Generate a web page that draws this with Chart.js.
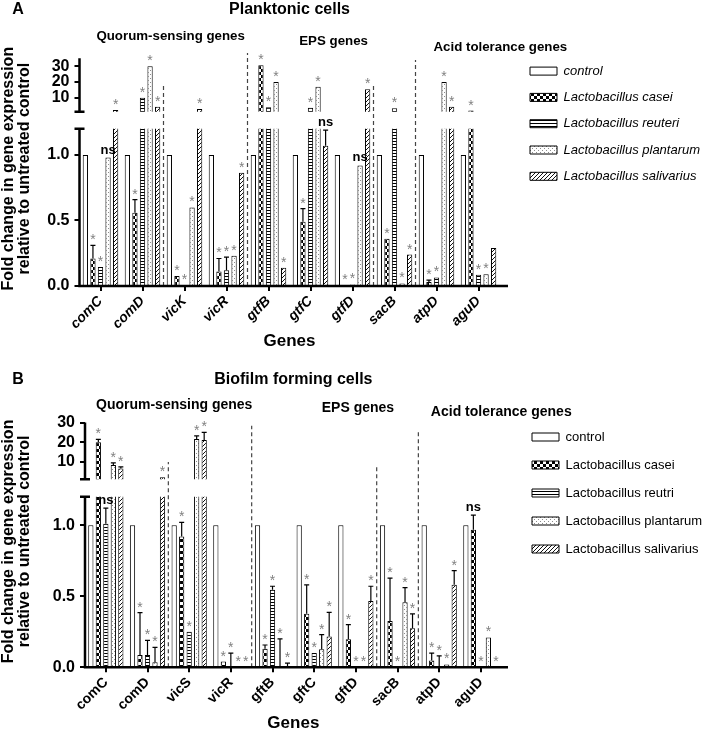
<!DOCTYPE html>
<html>
<head>
<meta charset="utf-8">
<script src="https://cdn.jsdelivr.net/npm/chart.js@4.4.1/dist/chart.umd.min.js"></script>
<style>
  html, body { margin: 0; background: #fff; overflow: hidden; }
  canvas { display: block; }
</style>
</head>
<body>
<canvas id="chartA" width="709" height="365"></canvas>
<canvas id="chartB" width="709" height="369"></canvas>
<script>
// ---- data ----
const genesA = ['comC', 'comD', 'vicK', 'vicR', 'gtfB', 'gtfC', 'gtfD', 'sacB', 'atpD', 'aguD'];
const genesB = ['comC', 'comD', 'vicS', 'vicR', 'gftB', 'gftC', 'gftD', 'sacB', 'atpD', 'aguD'];
const seriesA = ['control', 'Lactobacillus casei', 'Lactobacillus reuteri', 'Lactobacillus plantarum', 'Lactobacillus salivarius'];
const seriesB = ['control', 'Lactobacillus casei', 'Lactobacillus reutri', 'Lactobacillus plantarum', 'Lactobacillus salivarius'];
const yTicksA = [0, 0.5, 1.0, 10, 20, 30];
const yTicksB = [0, 0.5, 1.0, 10, 20, 30];

// panel A : planktonic cells
const controlA    = [1, 1, 1, 1, 1, 1, 1, 1, 1, 1];
const caseiA      = [0.21, 0.56, 0.076, 0.11, 30.5, 0.49, 0.008, 0.36, 0.03, 1.9];
const reuteriA    = [0.145, 10, 0.005, 0.12, 4.0, 3.7, 0.012, 3.3, 0.065, 0.085];
const plantarumA  = [0.98, 30, 0.6, 0.23, 20, 17, 0.92, 0.02, 20, 0.09];
const salivariusA = [2.3, 4.4, 2.9, 0.865, 0.14, 1.07, 15.4, 0.24, 4.4, 0.29];
const caseiErrA      = [0.31, 0.66, null, 0.21, null, 0.59, null, null, 0.045, null];
const reuteriErrA    = [null, null, null, 0.22, null, null, null, null, null, null];
const plantarumErrA  = [null, null, null, null, null, null, null, null, null, null];
const salivariusErrA = [null, null, null, null, null, 1.19, null, null, null, null];
const caseiMarkA      = ['*', '*', '*', '*', '*', '*', '*', '*', '*', '*'];
const reuteriMarkA    = ['*', '*', '*', '*', '*', '*', '*', '*', '*', '*'];
const plantarumMarkA  = ['ns', '*', '*', '*', '*', '*', 'ns', '*', '*', '*'];
const salivariusMarkA = ['*', '*', '*', '*', '*', 'ns', '*', '*', '*', ''];

// panel B : biofilm forming cells
const controlB    = [1, 1, 1, 1, 1, 1, 1, 1, 1, 1];
const caseiB      = [20.0, 0.087, 0.92, 0.04, 0.13, 0.376, 0.197, 0.326, 0.047, 0.967];
const reuteriB    = [1.01, 0.087, 0.25, 0, 0.545, 0.10, 0, 0, 0, 0];
const plantarumB  = [8.5, 0.035, 21.7, 0, 0, 0.127, 0, 0.458, 0.02, 0.21];
const salivariusB = [6.7, 2.2, 21.2, 0, 0, 0.216, 0.467, 0.275, 0.58, 0];
const caseiErrB      = [21.5, 0.385, 1.02, null, 0.157, 0.58, 0.30, 0.627, 0.10, 1.07];
const reuteriErrB    = [1.12, 0.19, null, 0.10, 0.57, null, null, null, 0.08, null];
const plantarumErrB  = [9.5, 0.14, 23.3, null, 0.20, 0.23, null, 0.56, null, null];
const salivariusErrB = [7.5, null, 25.0, null, 0.03, 0.387, 0.57, 0.376, 0.68, null];
const caseiMarkB      = ['*', '*', '*', '*', '*', '*', '*', '*', '*', 'ns'];
const reuteriMarkB    = ['ns', '*', '*', '*', '*', '*', '*', '*', '*', '*'];
const plantarumMarkB  = ['*', '*', '*', '*', '*', '*', '*', '*', '*', '*'];
const salivariusMarkB = ['*', '*', '*', '*', '*', '*', '*', '*', '*', '*'];

const FONT = '"Liberation Sans", Arial, sans-serif';
Chart.defaults.font.family = FONT;
Chart.defaults.color = '#000';

// linear axis with a break: 0..at in the lower part, at..max in the upper part
class BrokenScale extends Chart.LinearScale {
  segs() {
    const b = this.options.brk;
    const h = this.bottom - this.top;
    const lowTop = this.bottom - h * b.low;
    return { lowTop: lowTop, upBottom: lowTop - h * b.gap };
  }
  getPixelForValue(v) {
    if (v === null || v === undefined || isNaN(v)) return NaN;
    const b = this.options.brk, s = this.segs();
    if (v <= b.at) return this.bottom - (v - this.min) / (b.at - this.min) * (this.bottom - s.lowTop);
    return s.upBottom - (v - b.at) / (this.max - b.at) * (s.upBottom - this.top);
  }
  getValueForPixel(p) {
    const b = this.options.brk, s = this.segs();
    if (p >= s.lowTop) return this.min + (this.bottom - p) / (this.bottom - s.lowTop) * (b.at - this.min);
    return b.at + (s.upBottom - p) / (s.upBottom - this.top) * (this.max - b.at);
  }
}
BrokenScale.id = 'broken';
BrokenScale.defaults = Chart.LinearScale.defaults;
Chart.register(BrokenScale);

function makePattern(kind) {
  const c = document.createElement('canvas');
  const g = c.getContext('2d');
  c.width = 6; c.height = 6;
  if (kind === 'checker') {
    g.fillStyle = '#fff'; g.fillRect(0, 0, 6, 6);
    g.fillStyle = '#000'; g.fillRect(0, 0, 3, 3); g.fillRect(3, 3, 3, 3);
  } else if (kind === 'hlines') {
    c.width = 4; c.height = 3;
    g.fillStyle = '#fff'; g.fillRect(0, 0, 4, 3);
    g.fillStyle = '#000'; g.fillRect(0, 0, 4, 1);
  } else if (kind === 'dots') {
    c.width = 4; c.height = 4;
    g.fillStyle = '#fff'; g.fillRect(0, 0, 4, 4);
    g.fillStyle = '#8c8c8c';
    g.fillRect(0, 0, 1, 1); g.fillRect(2, 2, 1, 1);
  } else if (kind === 'hatch') {
    c.width = 4; c.height = 4;
    g.fillStyle = '#fff'; g.fillRect(0, 0, 4, 4);
    g.fillStyle = '#111';
    g.fillRect(3, 0, 1, 1); g.fillRect(2, 1, 1, 1); g.fillRect(1, 2, 1, 1); g.fillRect(0, 3, 1, 1);
  }
  return g.createPattern(c, 'repeat');
}
const fills = ['#fff', makePattern('checker'), makePattern('hlines'), makePattern('dots'), makePattern('hatch')];

function clipSegments(chart) {
  const ys = chart.scales.y, ca = chart.chartArea, s = ys.segs();
  const ctx = chart.ctx;
  ctx.beginPath();
  ctx.rect(ca.left - 5, ca.top - 30, ca.right - ca.left + 10, s.upBottom - ca.top + 30);
  ctx.rect(ca.left - 5, s.lowTop, ca.right - ca.left + 10, ys.bottom - s.lowTop + 2);
  ctx.clip();
}

// separators, break clipping, error bars, significance marks, axes and headings
const panelPlugin = {
  id: 'panel',
  beforeDatasetsDraw(chart, args, opts) {
    const ctx = chart.ctx, xs = chart.scales.x, ys = chart.scales.y;
    const y0 = ys.getPixelForValue(0);
    const half = (xs.getPixelForValue(1) - xs.getPixelForValue(0)) / 2;
    ctx.save();
    ctx.strokeStyle = '#444';
    ctx.lineWidth = 1.2;
    ctx.setLineDash([4, 3]);
    opts.dividers.forEach(d => {
      const x = xs.getPixelForValue(d.after) + half;
      ctx.beginPath();
      ctx.moveTo(x, y0);
      ctx.lineTo(x, ys.getPixelForValue(d.top));
      ctx.stroke();
    });
    ctx.restore();
    ctx.save();
    clipSegments(chart);
  },
  afterDatasetsDraw(chart) {
    const ctx = chart.ctx, ys = chart.scales.y;
    ctx.restore();
    chart.data.datasets.forEach((ds, i) => {
      const meta = chart.getDatasetMeta(i);
      meta.data.forEach((bar, j) => {
        const yv = ys.getPixelForValue(ds.data[j]);
        const e = ds.errTop ? ds.errTop[j] : null;
        let top = yv;
        if (e !== null && e !== undefined) {
          const ye = ys.getPixelForValue(e);
          ctx.save();
          clipSegments(chart);
          ctx.strokeStyle = '#000';
          ctx.lineWidth = 1.2;
          ctx.beginPath();
          ctx.moveTo(bar.x, yv);
          ctx.lineTo(bar.x, ye);
          ctx.moveTo(bar.x - 2.5, ye);
          ctx.lineTo(bar.x + 2.5, ye);
          ctx.stroke();
          ctx.restore();
          top = Math.min(yv, ye);
        }
        const m = ds.marks ? ds.marks[j] : '';
        if (!m) return;
        ctx.save();
        ctx.textAlign = 'center';
        ctx.textBaseline = 'alphabetic';
        if (m === 'ns') {
          ctx.fillStyle = '#000';
          ctx.font = 'bold 13px ' + FONT;
          ctx.fillText(m, bar.x, top - 4);
        } else {
          ctx.fillStyle = '#808080';
          ctx.font = '14px ' + FONT;
          ctx.fillText(m, bar.x, top - 1);
        }
        ctx.restore();
      });
    });
  },
  afterDraw(chart, args, opts) {
    const ctx = chart.ctx, xs = chart.scales.x, ys = chart.scales.y, ca = chart.chartArea;
    const s = ys.segs();
    const y0 = ys.getPixelForValue(0);
    ctx.save();
    ctx.strokeStyle = '#000';
    ctx.lineWidth = 2.5;
    ctx.beginPath();
    // broken y axis
    ctx.moveTo(ca.left, ys.getPixelForValue(opts.axisTop));
    ctx.lineTo(ca.left, s.upBottom);
    ctx.moveTo(ca.left - 5, s.upBottom);
    ctx.lineTo(ca.left + 5, s.upBottom);
    ctx.moveTo(ca.left - 5, s.lowTop);
    ctx.lineTo(ca.left + 5, s.lowTop);
    ctx.moveTo(ca.left, s.lowTop);
    ctx.lineTo(ca.left, y0 + 1.2);
    // x axis
    ctx.moveTo(ca.left, y0);
    ctx.lineTo(ca.right + opts.xExt, y0);
    ctx.stroke();

    const half = (xs.getPixelForValue(1) - xs.getPixelForValue(0)) / 2;
    ctx.fillStyle = '#000';
    ctx.textAlign = 'center';
    ctx.textBaseline = 'middle';
    ctx.font = 'bold ' + opts.groupSize + 'px ' + FONT;
    opts.groups.forEach(g => {
      const x = xs.getPixelForValue(0) + g.at * half * 2;
      ctx.fillText(g.text, x, ca.top + g.dy);
    });
    ctx.font = 'bold 16px ' + FONT;
    ctx.fillText(opts.letter, 18, opts.letterY);
    ctx.restore();
  }
};
Chart.register(panelPlugin);

function buildPanel(id, labels, names, values, errs, marks, p) {
  const datasets = names.map((name, i) => ({
    label: name,
    data: values[i],
    errTop: errs[i],
    marks: marks[i],
    backgroundColor: fills[i],
    borderColor: '#000',
    borderWidth: 1,
    categoryPercentage: 0.9,
    barPercentage: 0.7
  }));
  return new Chart(document.getElementById(id), {
    type: 'bar',
    data: { labels: labels, datasets: datasets },
    options: {
      responsive: false,
      animation: false,
      events: [],
      devicePixelRatio: 1,
      layout: { padding: { top: p.padTop, right: p.padRight, bottom: p.padBottom, left: 0 } },
      scales: {
        x: {
          type: 'category',
          offset: true,
          grid: { display: true, drawOnChartArea: false, offset: false, tickLength: 5, lineWidth: 2, color: '#000' },
          border: { display: false },
          ticks: {
            autoSkip: false, maxRotation: 45, minRotation: 45, padding: 2, color: '#000',
            font: { size: 14, weight: 'bold', style: p.italic ? 'italic' : 'normal' }
          },
          title: { display: true, text: 'Genes', color: '#000', padding: 0, font: { size: 17, weight: 'bold', lineHeight: 1 } },
          afterFit: sc => { sc.height = p.xHeight; }
        },
        y: {
          type: 'broken',
          position: 'left',
          min: 0,
          max: p.yMax,
          bounds: 'data',
          brk: p.brk,
          grid: { display: true, drawOnChartArea: false, tickLength: 5, lineWidth: 2, color: '#000' },
          border: { display: false },
          ticks: {
            padding: 5, color: '#000', font: { size: 16, weight: 'bold' },
            callback: v => (v < 5 ? v.toFixed(1) : String(v))
          },
          afterBuildTicks: sc => { sc.ticks = p.yTicks.map(v => ({ value: v })); },
          title: {
            display: true,
            text: ['Fold change in gene expression', 'relative to untreated control'],
            color: '#000',
            padding: { top: 1, bottom: 0 },
            font: { size: 16, weight: 'bold', lineHeight: 1 }
          },
          afterFit: sc => { sc.width = p.yWidth; }
        },
        gapRight: {
          type: 'linear',
          position: 'right',
          grid: { display: false },
          border: { display: false },
          ticks: { display: false },
          afterFit: sc => { sc.width = p.spacer; }
        }
      },
      plugins: {
        tooltip: { enabled: false },
        title: {
          display: true,
          text: p.title,
          fullSize: false,
          color: '#000',
          font: { size: 16, weight: 'bold', lineHeight: 1.2 },
          padding: { top: 0, bottom: p.titleGap }
        },
        legend: {
          position: 'right',
          align: 'start',
          fullSize: false,
          maxWidth: p.legendWidth,
          labels: {
            boxWidth: 27,
            boxHeight: 8,
            padding: p.legendPad,
            color: '#000',
            font: { size: 13, style: p.italic ? 'italic' : 'normal' }
          }
        },
        panel: {
          dividers: p.dividers,
          groups: p.groups,
          groupSize: p.groupSize,
          axisTop: p.axisTop,
          xExt: p.xExt,
          letter: p.letter,
          letterY: p.letterY
        }
      }
    }
  });
}

buildPanel('chartA', genesA, seriesA,
  [controlA, caseiA, reuteriA, plantarumA, salivariusA],
  [null, caseiErrA, reuteriErrA, plantarumErrA, salivariusErrA],
  [null, caseiMarkA, reuteriMarkA, plantarumMarkA, salivariusMarkA],
  {
    title: 'Planktonic cells', letter: 'A', letterY: 10, italic: true,
    padTop: 0.4, titleGap: 31.7, padBottom: 15.5, padRight: 0,
    xHeight: 63.5, yWidth: 79.5, spacer: 17.2, legendPad: 13.3, legendWidth: 192.3,
    yMax: 39.4, yTicks: yTicksA, brk: { at: 1.2, low: 0.6698, gap: 0.0729 }, axisTop: 35, xExt: 8.5,
    dividers: [{ after: 1, top: 19.4 }, { after: 3, top: 38.4 }, { after: 6, top: 19.4 }, { after: 7, top: 33.9 }],
    groupSize: 13.3,
    groups: [
      { text: 'Quorum-sensing genes', at: 1.67, dy: -14.8 },
      { text: 'EPS genes', at: 5.55, dy: -10.3 },
      { text: 'Acid tolerance genes', at: 9.52, dy: -4.3 }
    ]
  });

buildPanel('chartB', genesB, seriesB,
  [controlB, caseiB, reuteriB, plantarumB, salivariusB],
  [null, caseiErrB, reuteriErrB, plantarumErrB, salivariusErrB],
  [null, caseiMarkB, reuteriMarkB, plantarumMarkB, salivariusMarkB],
  {
    title: 'Biofilm forming cells', letter: 'B', letterY: 15, italic: false,
    padTop: 5.4, titleGap: 25.9, padBottom: 2.5, padRight: 0,
    xHeight: 64.2, yWidth: 85, spacer: 15.3, legendPad: 15, legendWidth: 192,
    yMax: 33.6, yTicks: yTicksB, brk: { at: 1.2, low: 0.6775, gap: 0.0691 }, axisTop: 30, xExt: 6.3,
    dividers: [{ after: 1, top: 10 }, { after: 3, top: 28.4 }, { after: 6, top: 7.5 }, { after: 7, top: 25.9 }],
    groupSize: 14,
    groups: [
      { text: 'Quorum-sensing genes', at: 1.64, dy: -10.5 },
      { text: 'EPS genes', at: 6.05, dy: -7.5 },
      { text: 'Acid tolerance genes', at: 9.49, dy: -3.5 }
    ]
  });
</script>
</body>
</html>
